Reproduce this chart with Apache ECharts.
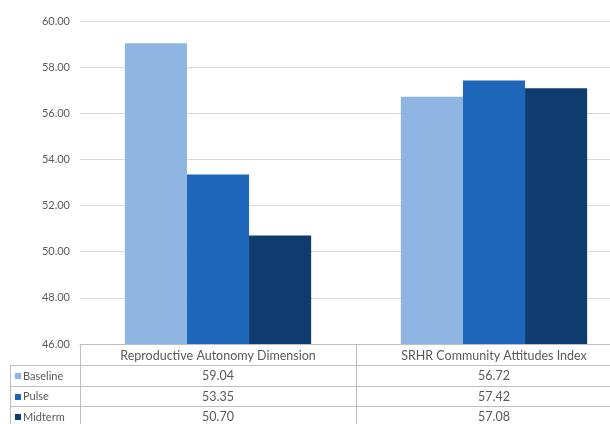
<!DOCTYPE html>
<html>
<head>
<meta charset="utf-8">
<script src="https://cdn.jsdelivr.net/npm/echarts@6/dist/echarts.min.js"></script>
<style>
  html, body { margin: 0; padding: 0; background: #fff; overflow: hidden; }
  #chart { width: 632px; height: 424px; }
</style>
</head>
<body>
<div id="chart"></div>
<script>
// Scores by round for each measure
const categories = ['Reproductive Autonomy Dimension', 'SRHR Community Attitudes Index'];
const seriesNames = ['Baseline', 'Pulse', 'Midterm'];
const baseline = [59.04, 56.72];
const pulse = [53.35, 57.42];
const midterm = [50.70, 57.08];
const seriesValues = [baseline, pulse, midterm];
const colors = ['#8fb6e2', '#1d66b9', '#0f3c6f'];

const FONT = 'Lato, "Open Sans", sans-serif';
const TEXT = '#595959';
const chart = echarts.init(document.getElementById('chart'), null, { renderer: 'canvas' });

const GRID = { left: 80, right: 0, top: 21, bottom: 80 };

chart.setOption({
  animation: false,
  backgroundColor: '#ffffff',
  grid: GRID,
  xAxis: {
    type: 'category',
    data: categories,
    axisLine: { show: true, lineStyle: { color: '#bfbfbf', width: 1 } },
    axisTick: { show: false },
    axisLabel: { show: false }
  },
  yAxis: {
    type: 'value',
    min: 46,
    max: 60,
    interval: 2,
    axisLine: { show: false },
    axisTick: { show: false },
    splitLine: { lineStyle: { color: '#d9d9d9', width: 1 } },
    axisLabel: {
      formatter: v => v.toFixed(2),
      color: TEXT,
      fontFamily: FONT,
      fontSize: 11,
      margin: 10
    }
  },
  series: seriesNames.map((name, i) => ({
    name,
    type: 'bar',
    data: seriesValues[i],
    barGap: '0%',
    barCategoryGap: '32.5%',
    itemStyle: { color: colors[i] }
  }))
});

// Data table beneath the plot: header row with category names, one row per series
function drawTable() {
  const rect = chart.getModel().getComponent('grid').coordinateSystem.getRect();
  const left = rect.x;
  const right = rect.x + rect.width;
  const top = rect.y + rect.height;
  const headerH = 21;
  const rowH = 20.5;
  const tableLeft = 10;
  const lineColor = '#bfbfbf';
  const cellFont = '12.5px ' + FONT;
  const els = [];

  const band = rect.width / categories.length;
  const centers = categories.map((c, j) => chart.convertToPixel({ xAxisIndex: 0 }, j));

  // horizontal rules
  for (let r = 0; r <= seriesNames.length; r++) {
    const y = Math.round(top + headerH + r * rowH) + 0.5;
    els.push({ type: 'line', shape: { x1: tableLeft, y1: y, x2: right, y2: y },
      style: { stroke: lineColor, lineWidth: 1 }, silent: true });
  }
  // vertical rules
  const bottom = top + headerH + seriesNames.length * rowH + 4;
  for (let j = 0; j <= categories.length; j++) {
    const x = Math.round(left + j * band) + 0.5;
    els.push({ type: 'line', shape: { x1: x, y1: top, x2: x, y2: bottom },
      style: { stroke: lineColor, lineWidth: 1 }, silent: true });
  }
  els.push({ type: 'line', shape: { x1: tableLeft + 0.5, y1: top + headerH, x2: tableLeft + 0.5, y2: bottom },
    style: { stroke: lineColor, lineWidth: 1 }, silent: true });

  // header labels
  categories.forEach((c, j) => {
    els.push({ type: 'text', x: centers[j], y: top + headerH / 2 + 1,
      style: { text: c, fill: TEXT, font: cellFont, align: 'center', verticalAlign: 'middle' }, silent: true });
  });

  // series rows
  seriesNames.forEach((name, i) => {
    const yMid = top + headerH + i * rowH + rowH / 2 + 1;
    els.push({ type: 'rect', shape: { x: tableLeft + 5, y: Math.round(yMid) - 3, width: 6, height: 6 },
      style: { fill: colors[i] }, silent: true });
    els.push({ type: 'text', x: tableLeft + 13, y: yMid,
      style: { text: name, fill: TEXT, font: '11px ' + FONT, align: 'left', verticalAlign: 'middle' }, silent: true });
    seriesValues[i].forEach((v, j) => {
      els.push({ type: 'text', x: centers[j], y: yMid,
        style: { text: v.toFixed(2), fill: TEXT, font: cellFont, align: 'center', verticalAlign: 'middle' }, silent: true });
    });
  });

  chart.setOption({ graphic: els });
}
drawTable();
</script>
</body>
</html>
